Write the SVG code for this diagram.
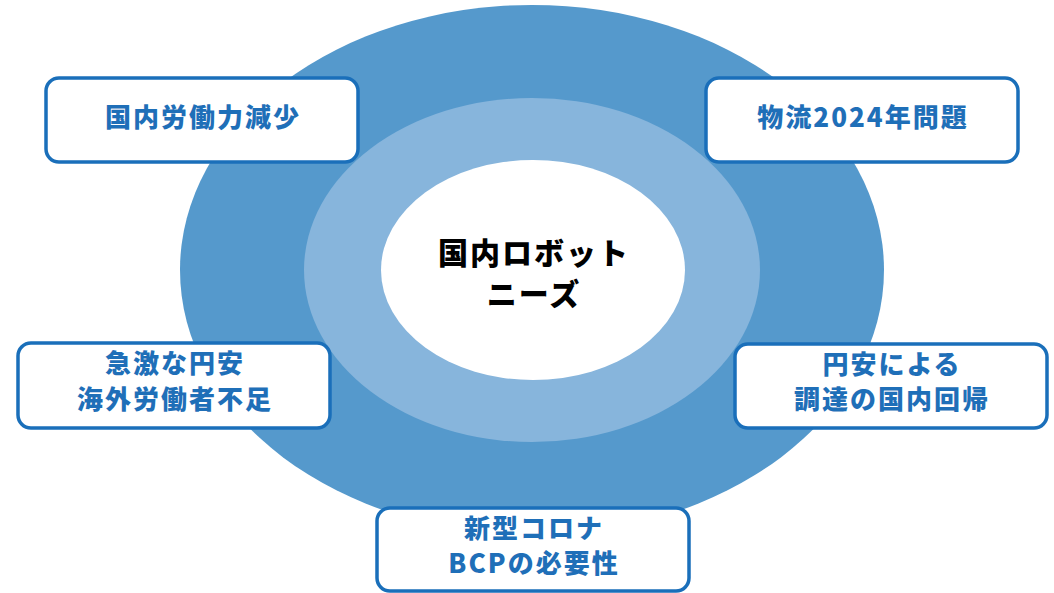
<svg xmlns="http://www.w3.org/2000/svg" width="1054" height="593" viewBox="0 0 1054 593">
<style>
.box{fill:#ffffff;stroke:#1a6fba;stroke-width:3.5}
.t{font-family:"Noto Sans CJK JP","Noto Sans",sans-serif;font-weight:900;font-size:26px;fill:#1f6fb8;text-anchor:middle;letter-spacing:2px}
.c{font-family:"Noto Sans CJK JP","Noto Sans",sans-serif;font-weight:900;font-size:30px;fill:#000000;text-anchor:middle;letter-spacing:2px}
</style>
<rect width="1054" height="593" fill="#ffffff"/>
<g id="rings">
<ellipse cx="532" cy="270" rx="352" ry="265" fill="#5599cc"/>
<ellipse cx="532" cy="270" rx="228" ry="172" fill="#87b5dc"/>
<ellipse cx="533" cy="270" rx="152" ry="110" fill="#ffffff"/>
</g>
<g id="center">
<text class="c" x="534" y="264">国内ロボット</text>
<text class="c" x="534" y="305">ニーズ</text>
</g>
<g id="connectors"></g>
<g id="n1">
<rect class="box" x="46" y="78" width="312" height="84" rx="13"/>
<text class="t" x="203" y="127">国内労働力減少</text>
</g>
<g id="n2">
<rect class="box" x="706" y="78" width="312" height="84" rx="13"/>
<text class="t" x="863" y="127">物流2024年問題</text>
</g>
<g id="n3">
<rect class="box" x="18" y="343" width="312" height="85" rx="13"/>
<text class="t" x="175" y="373">急激な円安</text>
<text class="t" x="175" y="409">海外労働者不足</text>
</g>
<g id="n4">
<rect class="box" x="735" y="344" width="312" height="84" rx="13"/>
<text class="t" x="892" y="374">円安による</text>
<text class="t" x="892" y="409">調達の国内回帰</text>
</g>
<g id="n5">
<rect class="box" x="377" y="508" width="312" height="83" rx="13"/>
<text class="t" x="534" y="538">新型コロナ</text>
<text class="t" x="534" y="573">BCPの必要性</text>
</g>
</svg>
